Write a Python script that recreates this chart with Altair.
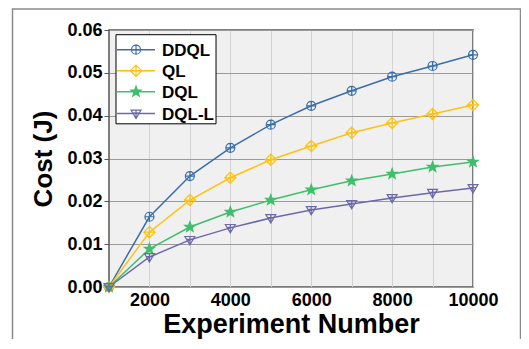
import altair as alt
import pandas as pd
import math

experiments = [1000, 2000, 3000, 4000, 5000, 6000, 7000, 8000, 9000, 10000]
ddql = [0.0, 0.0164, 0.0259, 0.0325, 0.0379, 0.0423, 0.0458, 0.0491, 0.0516, 0.0542]
ql = [0.0, 0.0128, 0.0203, 0.0255, 0.0297, 0.0329, 0.0360, 0.0383, 0.0404, 0.0425]
dql = [0.0, 0.0089, 0.0140, 0.0175, 0.0203, 0.0227, 0.0248, 0.0264, 0.0280, 0.0292]
dqll = [0.0, 0.0070, 0.0110, 0.0138, 0.0161, 0.0180, 0.0194, 0.0208, 0.0220, 0.0231]
series_names = ["DDQL", "QL", "DQL", "DQL-L"]
series_values = [ddql, ql, dql, dqll]
colors = ["#3b6ea8", "#ffc20e", "#3fbf6c", "#6c69a8"]

# legend placement, expressed in the chart's own data units
legend_rows_y = [0.0554, 0.0505, 0.0456, 0.0405]
legend_line_x = [1198, 2137]
legend_mark_x = 1668
legend_label_x = 2311
legend_box_x = [1173, 3646]
legend_box_y = [0.0381, 0.0589]

rows = []
for name, vals in zip(series_names, series_values):
    for xv, yv in zip(experiments, vals):
        rows.append({"exp": xv, "cost": yv, "series": name})
df = pd.DataFrame(rows)

leg_df = pd.DataFrame({
    "series": series_names,
    "cost": legend_rows_y,
    "exp": [legend_mark_x] * 4,
    "x1": [legend_line_x[0]] * 4,
    "x2": [legend_line_x[1]] * 4,
    "lx": [legend_label_x] * 4,
})
box_df = pd.DataFrame({"x1": [legend_box_x[0]], "x2": [legend_box_x[1]],
                       "y1": [legend_box_y[0]], "y2": [legend_box_y[1]]})


def fmt(v):
    return f"{v:.3f}".rstrip("0").rstrip(".")


def circle_plus(s):
    return (f"M{fmt(-s)},0A{fmt(s)},{fmt(s)},0,1,0,{fmt(s)},0A{fmt(s)},{fmt(s)},0,1,0,{fmt(-s)},0Z"
            f"M{fmt(-s)},0L{fmt(s)},0M0,{fmt(-s)}L0,{fmt(s)}")


def diamond_plus(s):
    d = 1.25 * s
    return (f"M0,{fmt(-d)}L{fmt(d)},0L0,{fmt(d)}L{fmt(-d)},0Z"
            f"M{fmt(-d)},0L{fmt(d)},0M0,{fmt(-d)}L0,{fmt(d)}")


def star(s):
    pts = []
    for k in range(10):
        r = 1.2 * s if k % 2 == 0 else 0.5 * s
        a = math.radians(-90 + 36 * k)
        pts.append((r * math.cos(a), r * math.sin(a)))
    return "M" + "L".join(f"{fmt(px)},{fmt(py)}" for px, py in pts) + "Z"


def tri_plus(s):
    return (f"M{fmt(-1.1*s)},{fmt(-0.75*s)}L{fmt(1.1*s)},{fmt(-0.75*s)}L0,{fmt(1.1*s)}Z"
            f"M0,{fmt(-0.75*s)}L0,{fmt(1.1*s)}M{fmt(-0.6*s)},{fmt(-0.1*s)}L{fmt(0.6*s)},{fmt(-0.1*s)}")


makers = [circle_plus, diamond_plus, star, tri_plus]
point_shapes = [m(1.0) for m in makers]
filled_flags = [False, False, True, False]

font = "Liberation Sans"

x_scale = alt.Scale(domain=[1000, 10000], nice=False, zero=False)
y_scale = alt.Scale(domain=[0, 0.06], nice=False)

x_enc = alt.X(
    "exp:Q",
    scale=x_scale,
    axis=alt.Axis(
        title="Experiment Number",
        values=[2000, 3000, 4000, 5000, 6000, 7000, 8000, 9000, 10000],
        labelExpr="datum.value % 2000 == 0 ? format(datum.value, 'd') : ''",
        ticks=False,
        domain=False,
        gridColor="#d2d2d2",
        gridWidth=1,
        labelPadding=4,
        titlePadding=2,
        labelFlush=False,
    ),
)
y_enc = alt.Y(
    "cost:Q",
    scale=y_scale,
    axis=alt.Axis(
        title="Cost (J)",
        values=[i * 0.005 for i in range(13)],
        labelExpr="abs(round(datum.value*200) % 2) < 0.5 ? format(datum.value, '.2f') : ''",
        tickOpacity={"expr": "abs(round(datum.value*200) % 2) < 0.5 ? 1 : 0"},
        gridColor={"expr": "abs(round(datum.value*200) % 2) < 0.5 ? '#9a9a9a' : '#d6d6d6'"},
        gridWidth=1.2,
        tickSize=5,
        tickColor="#555555",
        domain=False,
        labelPadding=2,
        titlePadding=10,
    ),
)

color_scale = alt.Scale(domain=series_names, range=colors)
color_enc = alt.Color("series:N", scale=color_scale, legend=None)

lines = alt.Chart(df).mark_line(strokeWidth=1.5).encode(
    x=x_enc, y=y_enc, color=color_enc, detail="series:N",
)


def point_layer(data, name, shp, filled):
    mark = alt.Chart(data).transform_filter(alt.datum.series == name).mark_point(
        shape=shp, filled=filled, size=81, strokeWidth=1.2, opacity=1
    )
    if filled:
        return mark.encode(x=x_enc, y=y_enc, color=color_enc,
                           stroke=alt.Stroke("series:N", scale=color_scale, legend=None))
    return mark.encode(x=x_enc, y=y_enc, color=color_enc)


point_layers = [point_layer(df, n, s, f) for n, s, f in zip(series_names, point_shapes, filled_flags)]

legend_box = alt.Chart(box_df).mark_rect(fill="white", stroke="black", strokeWidth=1).encode(
    x=alt.X("x1:Q", scale=x_scale), x2="x2:Q",
    y=alt.Y("y1:Q", scale=y_scale), y2="y2:Q",
)
legend_lines = alt.Chart(leg_df).mark_rule(strokeWidth=1.5).encode(
    x=alt.X("x1:Q", scale=x_scale), x2="x2:Q", y=y_enc, color=color_enc,
)
legend_marks = [point_layer(leg_df, n, s, f) for n, s, f in zip(series_names, point_shapes, filled_flags)]
legend_text = alt.Chart(leg_df).mark_text(
    align="left", baseline="middle", font=font, fontSize=17, fontWeight="bold", color="black", dy=1
).encode(
    x=alt.X("lx:Q", scale=x_scale), y=y_enc, text="series:N",
)

frame = alt.Chart(box_df).mark_rect(fill="transparent", stroke="#8a8a8a", strokeWidth=1.5, clip=False).encode(
    x=alt.value(-96.5), x2=alt.value(411.5), y=alt.value(-21), y2=alt.value(400)
)

chart = alt.layer(
    frame, lines, *point_layers, legend_box, legend_lines, *legend_marks, legend_text
).properties(
    width=364,
    height=257,
    padding={"left": 101, "top": 22, "right": 48, "bottom": 52},
    autosize=alt.AutoSizeParams(type="none"),
    background="white",
).configure_view(
    fill="#f0f0f0", stroke="#555555", strokeWidth=1.5
).configure_axis(
    labelFont=font, labelFontSize=18, labelFontWeight="bold", labelColor="black",
    titleFont=font, titleFontSize=26, titleFontWeight="bold", titleColor="black",
).configure_axisX(titleFontSize=27)

chart.save("out.html", embed_options={"renderer": "svg", "actions": False})
